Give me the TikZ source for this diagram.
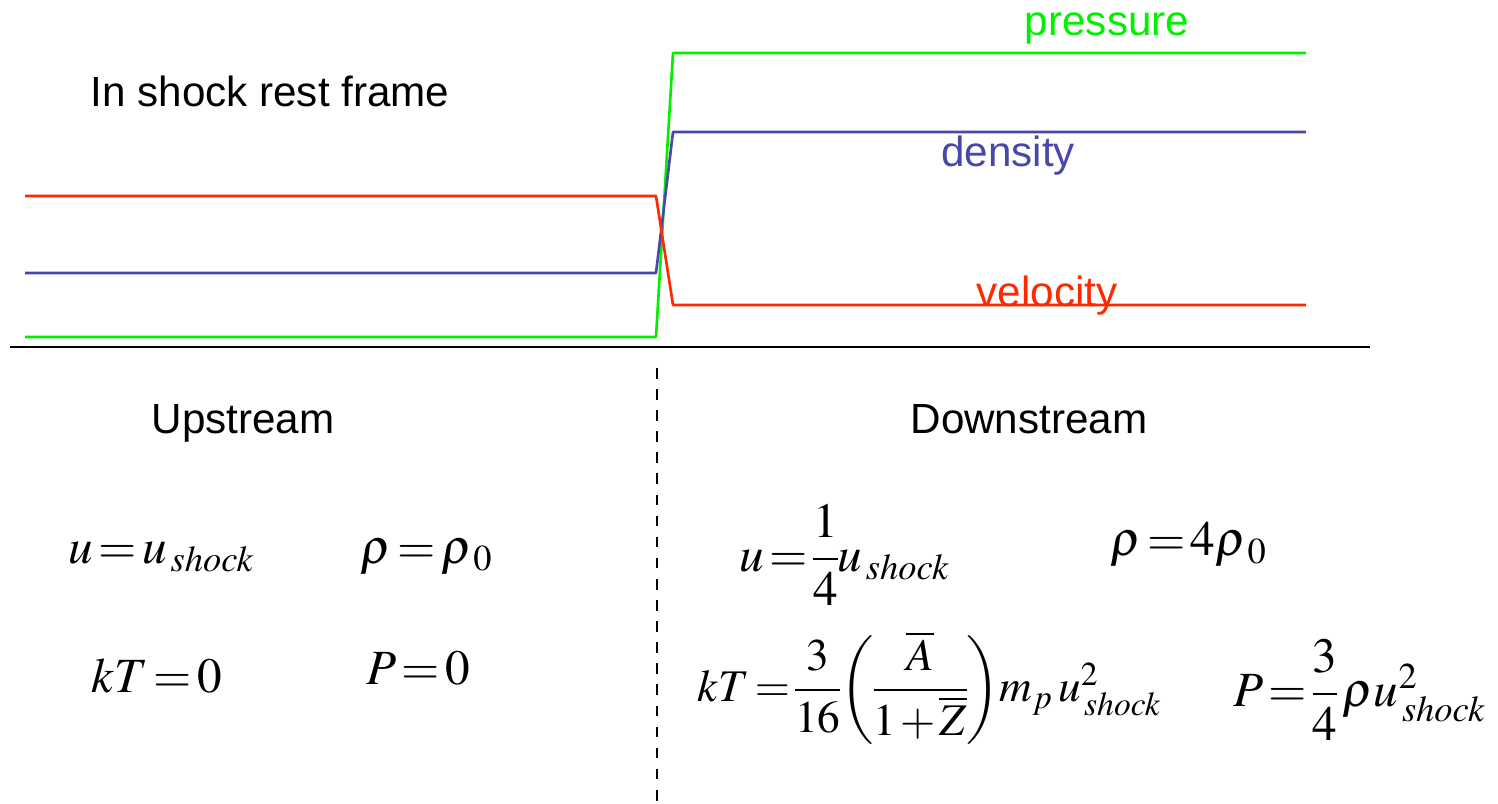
\documentclass[tikz,border=0pt]{standalone}
\usepackage[no-math]{fontspec}
\usepackage{mathptmx}
\setmainfont{Liberation Sans}
\usepackage{amsmath}
\usepackage{tikz}
\usetikzlibrary{positioning,calc}
\definecolor{shockgreen}{RGB}{0,240,0}
\definecolor{shockblue}{RGB}{72,72,170}
\definecolor{shockred}{RGB}{255,40,0}
\newcommand{\tightmath}{\thickmuskip=2mu plus 1mu\medmuskip=1.5mu\nulldelimiterspace=0pt}
\newcommand{\ush}{u_{\kern1pt\mathit{shock}}}
\tikzset{
  profile/.style={line width=0.75pt,line join=round},
  label/.style={font=\fontsize{12}{14}\selectfont,inner sep=0pt},
  eqn/.style={font=\fontsize{14}{17}\selectfont\tightmath,inner sep=0pt}
}

\begin{document}
\begin{tikzpicture}[x=0.01cm,y=-0.01cm]
  \useasboundingbox (0,0) rectangle (1498,804);
  % profiles across the shock
  \draw[profile,shockgreen] (25,337) -- (656,337) -- (673,53) -- (1306,53);
  \draw[profile,shockblue] (25,273) -- (656,273) -- (673,132) -- (1306,132);
  \draw[profile,shockred] (25,196) -- (656,196) -- (673,305) -- (1306,305);
  \draw[line width=0.6pt] (10,347) -- (1370,347);
  \draw[dashed,line width=0.4pt] (657,368) -- (657,804);
  % labels
  \node[label,shockgreen] (pres) at (1107,29) {pressure};
  \node[label,shockblue] (dens) at (1008,156) {density};
  \node[label,shockred] (vel) at (1047,296) {velocity};
  \node[label] (frame) at (270,91) {In shock rest frame};
  \node[label] (up) at (243,423) {Upstream};
  \node[label] (down) at (1029,419) {Downstream};
  % upstream state
  \node[eqn] (uup) at (162,557) {$u = \ush$};
  \node[eqn] (rhoup) at (427,557) {$\rho = \rho_{\kern1.5pt 0}$};
  \node[eqn] (kTup) at (157,676) {$kT = 0$};
  \node[eqn] (Pup) at (418,668) {$P = 0$};
  % downstream state
  \node[eqn] (udown) at (845,555) {$u = \dfrac{1}{4}\ush$};
  \node[eqn] (rhodown) at (1189,545) {$\rho = 4\rho_{\kern1.5pt 0}$};
  \node[eqn,scale=0.92] (kTdown) at (930,688) {$kT = \dfrac{3}{16}\!\left(\dfrac{\overline{A}}{1+\overline{Z}}\right)\!m_p\kern1.5pt \ush^2$};
  \node[eqn] (Pdown) at (1360,690) {$P = \dfrac{3}{4}\,\rho \ush^2$};
\end{tikzpicture}
\end{document}
